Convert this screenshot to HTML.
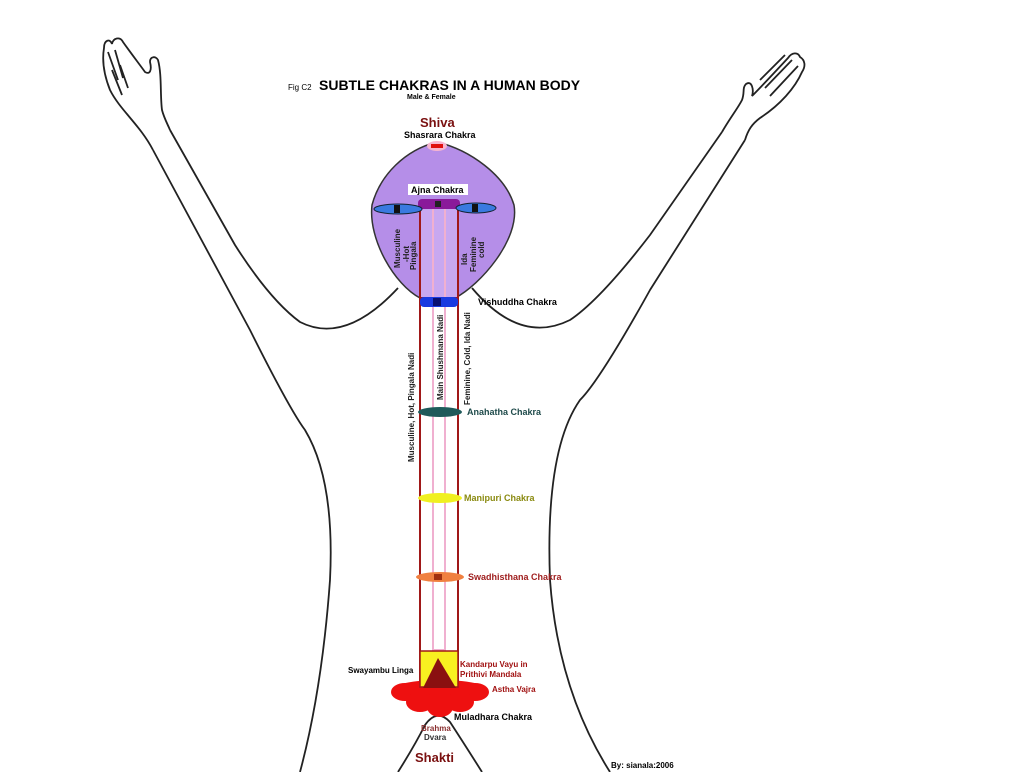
<!DOCTYPE html>
<html><head><meta charset="utf-8"><style>
body{margin:0;background:#fff;width:1023px;height:772px;overflow:hidden;font-family:"Liberation Sans",sans-serif}
</style></head><body>
<svg width="1023" height="772" viewBox="0 0 1023 772" xmlns="http://www.w3.org/2000/svg" font-family="Liberation Sans, sans-serif" font-weight="bold">
<g fill="none" stroke="#222" stroke-width="1.8">
<!-- left hand -->
<path d="M153,150 C140,125 120,110 110,90 C104,75 102,60 104,48 C104,40 110,38 112,44 C113,38 120,36 123,42 C130,52 140,65 145,72 C150,75 152,70 150,62 C150,56 156,56 158,60 C162,75 160,95 162,110 C164,118 168,125 170,130"/>
<path d="M108,52 L118,80 M115,50 L123,78 M112,70 L122,95 M120,65 L128,88"/>
<path d="M170,130 L235,245 Q270,300 300,322 Q345,345 398,288"/>
<path d="M153,150 L250,330 Q290,410 305,430 Q335,480 330,580 Q322,690 300,772"/>
<!-- right hand -->
<path d="M722,132 C730,118 738,108 742,100 C745,92 742,88 746,84 C752,80 754,90 752,96 C760,88 775,72 788,58 C792,52 798,52 800,57 C805,60 806,66 802,72 C795,88 780,105 760,118 C752,124 748,130 745,140"/>
<path d="M760,80 L785,55 M765,88 L792,60 M770,96 L798,66"/>
<path d="M722,132 L650,235 Q600,300 570,320 Q520,345 472,288"/>
<path d="M745,140 L650,290 Q600,380 580,400 Q545,450 550,580 Q558,690 610,772"/>
<!-- shakti hill -->
<path d="M398,772 Q415,745 425,725 Q437,708 450,722 Q465,745 482,772"/>
</g>
<!-- head -->
<path d="M437,142 C470,150 505,175 514,205 C520,240 480,285 455,298 L420,298 C395,285 368,240 372,205 C380,175 405,150 437,142 Z" fill="#b58ee8" stroke="#333" stroke-width="1.5"/>
<ellipse cx="437" cy="146" rx="10" ry="5" fill="#f7b5d0"/>
<rect x="431" y="144" width="12" height="4" fill="#e01010"/>
<!-- column -->
<rect x="420" y="205" width="38" height="485" fill="#fff" stroke="#a01818" stroke-width="2"/>
<rect x="420" y="205" width="38" height="93" fill="#c8a8f0" stroke="#a01818" stroke-width="2"/>
<rect x="433" y="205" width="12" height="445" fill="none" stroke="#f0b0d0" stroke-width="2"/>
<!-- ajna -->
<rect x="418" y="199" width="42" height="10" rx="4" fill="#8a1a9a"/>
<rect x="435" y="201" width="6" height="6" fill="#222"/>
<ellipse cx="398" cy="209" rx="24" ry="5" fill="#3a7ae0" stroke="#123" stroke-width="1"/>
<rect x="394" y="205" width="6" height="8" fill="#111"/>
<ellipse cx="476" cy="208" rx="20" ry="5" fill="#3a7ae0" stroke="#123" stroke-width="1"/>
<rect x="472" y="204" width="6" height="8" fill="#111"/>
<!-- vishuddha -->
<rect x="420" y="297" width="38" height="10" rx="4" fill="#1a3ae0"/>
<rect x="433" y="298" width="8" height="8" fill="#0a1070"/>
<ellipse cx="440" cy="412" rx="22" ry="5" fill="#1e5a5a"/>
<ellipse cx="440" cy="498" rx="22" ry="5" fill="#f0f020"/>
<ellipse cx="440" cy="577" rx="24" ry="5" fill="#f08040"/>
<rect x="434" y="574" width="8" height="6" fill="#a03010"/>
<!-- muladhara -->
<g fill="#ee1010">
<ellipse cx="440" cy="690" rx="48" ry="10"/>
<ellipse cx="405" cy="692" rx="14" ry="9"/><ellipse cx="475" cy="692" rx="14" ry="9"/>
<ellipse cx="420" cy="702" rx="14" ry="10"/><ellipse cx="460" cy="702" rx="14" ry="10"/>
<ellipse cx="440" cy="707" rx="13" ry="10"/>
</g>
<rect x="420" y="651" width="38" height="36" fill="#f8f020" stroke="#a01818" stroke-width="1.5"/>
<polygon points="438,658 423,688 456,688" fill="#8a1010"/>
<!-- text -->
<text x="288" y="90" font-size="8" font-weight="normal">Fig C2</text>
<text x="319" y="90" font-size="14">SUBTLE CHAKRAS IN A HUMAN BODY</text>
<text x="407" y="99" font-size="7">Male &amp; Female</text>
<text x="420" y="127" font-size="13" fill="#7a1010">Shiva</text>
<text x="404" y="138" font-size="9">Shasrara Chakra</text>
<rect x="408" y="184" width="60" height="11" fill="#fff"/>
<text x="411" y="193" font-size="9">Ajna Chakra</text>
<g font-size="8" fill="#222">
<text transform="translate(400,268) rotate(-90)">Musculine</text>
<text transform="translate(409,262) rotate(-90)">-Hot</text>
<text transform="translate(416,270) rotate(-90)">Pingala</text>
<text transform="translate(467,265) rotate(-90)">Ida</text>
<text transform="translate(476,272) rotate(-90)">Feminine</text>
<text transform="translate(484,258) rotate(-90)">cold</text>
<text transform="translate(414,462) rotate(-90)">Musculine, Hot, Pingala Nadi</text>
<text transform="translate(443,400) rotate(-90)">Main Shushmana Nadi</text>
<text transform="translate(470,405) rotate(-90)">Feminine, Cold, Ida Nadi</text>
</g>
<text x="478" y="305" font-size="9">Vishuddha Chakra</text>
<text x="467" y="415" font-size="9" fill="#1e4a4a">Anahatha Chakra</text>
<text x="464" y="501" font-size="9" fill="#8a8a10">Manipuri Chakra</text>
<text x="468" y="580" font-size="9" fill="#a02020">Swadhisthana Chakra</text>
<text x="348" y="673" font-size="8">Swayambu Linga</text>
<text x="460" y="667" font-size="8" fill="#a01010">Kandarpu Vayu in</text>
<text x="460" y="677" font-size="8" fill="#a01010">Prithivi Mandala</text>
<text x="492" y="692" font-size="8" fill="#a01010">Astha Vajra</text>
<text x="454" y="720" font-size="9">Muladhara Chakra</text>
<text x="421" y="731" font-size="8" fill="#8a3030">Brahma</text>
<text x="424" y="740" font-size="8" fill="#333">Dvara</text>
<text x="415" y="762" font-size="13" fill="#7a1010">Shakti</text>
<text x="611" y="768" font-size="8">By: sianala:2006</text>
</svg>
</body></html>
